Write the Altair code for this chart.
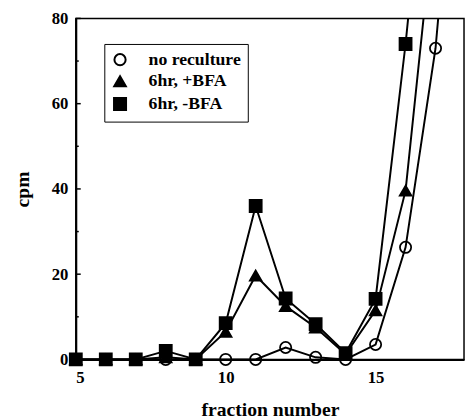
import altair as alt
import pandas as pd

fractions = [5, 6, 7, 8, 9, 10, 11, 12, 13, 14, 15, 16, 17, 18]
no_reculture = [0, 0, 0, 0, 0, 0, 0, 2.8, 0.5, 0, 3.5, 26.3, 73, 152]
bfa_plus = [0, 0, 0, 0.5, 0, 6.5, 19.7, 12.5, 7.5, 1.2, 11.5, 39.6, 107]
bfa_minus = [0, 0, 0, 2, 0, 8.5, 36, 14.3, 8.3, 1.5, 14.2, 74, 144]
series_names = ["no reculture", "6hr, +BFA", "6hr, -BFA"]
y_tick_values = [0, 20, 40, 60, 80]
y_minor_values = [10, 30, 50, 70]
x_tick_values = [5, 10, 15]

rows = []
for name, vals in zip(series_names, [no_reculture, bfa_plus, bfa_minus]):
    for f, v in zip(fractions, vals):
        rows.append({"fraction": f, "cpm": v, "series": name})
df = pd.DataFrame(rows)

FONT = "Liberation Serif"

xscale = alt.Scale(domain=[5, 17.95], nice=False, zero=False)
yscale = alt.Scale(domain=[0, 80], nice=False)

x = alt.X("fraction:Q", scale=xscale,
          axis=alt.Axis(values=x_tick_values, ticks=False, grid=False, labelPadding=10,
                        title="fraction number", titlePadding=15))
y = alt.Y("cpm:Q", scale=yscale,
          axis=alt.Axis(values=y_tick_values, ticks=False, grid=False, labelPadding=8,
                        title="cpm", titlePadding=19))

lines = alt.Chart(df).mark_line(color="black", strokeWidth=2, clip=True).encode(
    x=x, y=y, detail="series:N"
)

shape_scale = alt.Scale(domain=series_names, range=["circle", "triangle-up", "square"])
fill_scale = alt.Scale(domain=series_names, range=["transparent", "black", "black"])
stroke_scale = alt.Scale(domain=series_names, range=["black", "black", "black"])
size_scale = alt.Scale(domain=series_names, range=[130, 150, 95])
legend = alt.Legend(title=None, orient="none", legendX=29, legendY=26,
                    strokeColor="black", fillColor="white", padding=7,
                    labelFont=FONT, labelFontSize=18, labelFontWeight="bold",
                    labelColor="black", symbolStrokeWidth=2,
                    symbolStrokeColor="black", rowPadding=2, labelOffset=20)

points = alt.Chart(df).transform_filter("datum.cpm <= 80").mark_point(
    strokeWidth=1.8, opacity=1, filled=True
).encode(
    x="fraction:Q", y="cpm:Q",
    shape=alt.Shape("series:N", scale=shape_scale, legend=legend),
    fill=alt.Fill("series:N", scale=fill_scale, legend=legend),
    stroke=alt.Stroke("series:N", scale=stroke_scale, legend=legend),
    size=alt.Size("series:N", scale=size_scale, legend=legend),
)

major = alt.Chart(pd.DataFrame({"t": y_tick_values})).mark_rule(color="black", strokeWidth=1.5).encode(
    y="t:Q", x=alt.value(0), x2=alt.value(5)
)
minor = alt.Chart(pd.DataFrame({"t": y_minor_values})).mark_rule(color="black", strokeWidth=1.5).encode(
    y="t:Q", x=alt.value(0), x2=alt.value(3)
)

chart = alt.layer(lines, points, major, minor).properties(
    width=395, height=347,
    padding={"left": 69, "top": 7, "right": 1, "bottom": 57},
    autosize="none",
).configure_view(stroke="black", strokeWidth=1.5).configure_axis(
    domainColor="black", domainWidth=2,
    labelFont=FONT, labelFontSize=17, labelFontWeight="bold", labelColor="black",
    titleFont=FONT, titleFontSize=20, titleFontWeight="bold", titleColor="black",
)

chart.save("out.html", embed_options={"renderer": "svg", "actions": False})
